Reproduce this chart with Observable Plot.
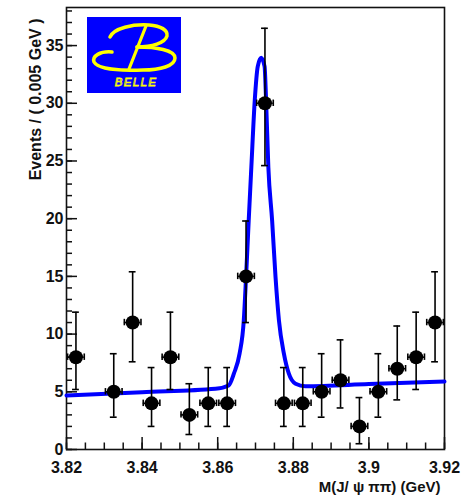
<!DOCTYPE html>
<html>
<head>
<meta charset="utf-8">
<script src="https://cdn.jsdelivr.net/npm/d3@7"></script>
<script src="https://cdn.jsdelivr.net/npm/@observablehq/plot@0.6"></script>
<style>
  html, body { margin: 0; padding: 0; background: #fff; }
  #chart svg { display: block; }
</style>
</head>
<body>
<div id="chart"></div>
<script>
// Bin centres (GeV), counts and asymmetric Poisson error limits
const binCenters = [3.8225, 3.8325, 3.8375, 3.8425, 3.8475, 3.8525, 3.8575, 3.8625, 3.8675, 3.8725,
                    3.8775, 3.8825, 3.8875, 3.8925, 3.8975, 3.9025, 3.9075, 3.9125, 3.9175];
const counts     = [8, 5, 11, 4, 8, 3, 4, 4, 15, 30, 4, 4, 5, 6, 2, 5, 7, 8, 11];
const errLow     = [5.2, 2.8, 7.6, 2.0, 5.2, 1.3, 2.0, 2.0, 11.0, 24.6, 2.0, 2.0, 2.8, 3.6, 0.5, 2.8, 4.3, 5.2, 7.6];
const errHigh    = [11.9, 8.3, 15.4, 7.1, 11.9, 5.7, 7.1, 7.1, 19.8, 36.5, 7.1, 7.1, 8.3, 9.5, 4.5, 8.3, 10.7, 11.9, 15.4];

// Fit curve
const fitX = [3.82, 3.84, 3.8594, 3.8629, 3.8643, 3.8658, 3.8669, 3.8675, 3.8682, 3.8689, 3.8698, 3.8706,
              3.8715, 3.8724, 3.8728, 3.8734, 3.8744, 3.8753, 3.8762, 3.8775, 3.8788, 3.8806, 3.8832, 3.90, 3.92];
const fitY = [4.68, 4.97, 5.26, 5.55, 6.59, 8.33, 11.19, 14.93, 19.84, 24.46, 30.24, 33.2,
              33.94, 33.2, 30.24, 24.46, 19.84, 14.93, 11.19, 8.33, 6.59, 5.7, 5.49, 5.67, 5.89];

// Axis ticks
const xTicks = [3.82, 3.84, 3.86, 3.88, 3.90, 3.92];
const xTickLabels = ["3.82", "3.84", "3.86", "3.88", "3.9", "3.92"];
const yTicks = [0, 5, 10, 15, 20, 25, 30, 35];
const yTickLabels = ["0", "5", "10", "15", "20", "25", "30", "35"];
const xMinorStep = 0.005;
const yMinorStep = 1;

const xTitle = "M(J/ ψ ππ) (GeV)";
const yTitle = "Events / ( 0.005 GeV )";

const points = binCenters.map((x, i) => ({x, y: counts[i], lo: errLow[i], hi: errHigh[i]}));
const fit = fitX.map((x, i) => ({x, y: fitY[i]}));

const xDomain = [3.82, 3.92];
const yDomain = [0, 38.3];
const xMinor = d3.range(0, Math.round((xDomain[1] - xDomain[0]) / xMinorStep) + 1).map(i => xDomain[0] + i * xMinorStep);
const yMinor = d3.range(0, 39, yMinorStep);

const halfW = 0.0022;   // horizontal error-bar half width
const capW = 0.0009;    // cap half width (x units)
const capH = 0.28;      // cap half height (y units)

const font = "'Liberation Sans', Arial, Helvetica, sans-serif";

function belleLogo(index, scales, values, dims) {
  const g = d3.create("svg:g");
  g.append("rect").attr("x", 87).attr("y", 17).attr("width", 94).attr("height", 76).attr("fill", "#0000ff");
  const stroke = "#ffff00";
  g.append("path")
    .attr("d", "M110,37 C114,28 133,24 149,25 C161,26 168,30 167,36 C165,43 152,47 137,47")
    .attr("fill", "none").attr("stroke", stroke).attr("stroke-width", 3.5).attr("stroke-linecap", "round");
  g.append("path")
    .attr("d", "M137,47 C156,47 175,50 175,58 C175,66 160,70 143,70 C120,71 98,69 94,62 C92,56 100,51 112,52")
    .attr("fill", "none").attr("stroke", stroke).attr("stroke-width", 3.5).attr("stroke-linecap", "round");
  g.append("path")
    .attr("d", "M146,26 L129,69")
    .attr("fill", "none").attr("stroke", stroke).attr("stroke-width", 3.2).attr("stroke-linecap", "round");
  g.append("text").attr("x", 136).attr("y", 86).attr("text-anchor", "middle")
    .attr("font-family", font).attr("font-style", "italic").attr("font-size", 11.5)
    .attr("letter-spacing", 1.3).attr("fill", "none").attr("stroke", stroke).attr("stroke-width", 0.8)
    .text("BELLE");
  return g.node();
}

const chart = Plot.plot({
  width: 462,
  height: 496,
  marginLeft: 66,
  marginRight: 18,
  marginTop: 7,
  marginBottom: 47,
  style: {fontFamily: font, background: "#fff"},
  x: {domain: xDomain, label: null},
  y: {domain: yDomain, label: null},
  marks: [
    // minor ticks
    Plot.axisX({ticks: xMinor, tickSize: -6.5, tickFormat: () => "", stroke: "#111", strokeWidth: 1.5, label: null}),
    Plot.axisY({ticks: yMinor, tickSize: -6, tickFormat: () => "", stroke: "#111", strokeWidth: 1.5, label: null}),
    // major ticks with labels
    Plot.axisX({ticks: xTicks, tickSize: -12, tickPadding: 24, tickFormat: (d, i) => xTickLabels[i],
                stroke: "#111", strokeWidth: 1.5, fontSize: 16, fontWeight: "bold", fill: "#111", label: null}),
    Plot.axisY({ticks: yTicks, tickSize: -11, tickPadding: 14, tickFormat: (d, i) => yTickLabels[i],
                stroke: "#111", strokeWidth: 1.5, fontSize: 16, fontWeight: "bold", fill: "#111", label: null}),
    Plot.frame({stroke: "#111", strokeWidth: 1.6}),
    belleLogo,
    // fit curve
    Plot.line(fit, {x: "x", y: "y", curve: "monotone-x", stroke: "#0000ff", strokeWidth: 4}),
    // vertical error bars + caps
    Plot.ruleX(points, {x: "x", y1: "lo", y2: "hi", stroke: "#000", strokeWidth: 1.6}),
    Plot.ruleY(points, {y: "hi", x1: d => d.x - capW, x2: d => d.x + capW, stroke: "#000", strokeWidth: 1.6}),
    Plot.ruleY(points, {y: "lo", x1: d => d.x - capW, x2: d => d.x + capW, stroke: "#000", strokeWidth: 1.6}),
    // horizontal error bars + caps
    Plot.ruleY(points, {y: "y", x1: d => d.x - halfW, x2: d => d.x + halfW, stroke: "#000", strokeWidth: 1.6}),
    Plot.ruleX(points, {x: d => d.x - halfW, y1: d => d.y - capH, y2: d => d.y + capH, stroke: "#000", strokeWidth: 1.6}),
    Plot.ruleX(points, {x: d => d.x + halfW, y1: d => d.y - capH, y2: d => d.y + capH, stroke: "#000", strokeWidth: 1.6}),
    // markers
    Plot.dot(points, {x: "x", y: "y", r: 7, fill: "#000", stroke: "none"}),
    // titles
    Plot.text([xTitle], {frameAnchor: "bottom-right", textAnchor: "end", lineAnchor: "middle", dx: -4, dy: 38,
                         fontSize: 15, fontWeight: "bold", fill: "#111"}),
    Plot.text([yTitle], {frameAnchor: "top-left", textAnchor: "end", lineAnchor: "middle", rotate: -90, dx: -31, dy: 11,
                         fontSize: 16, fontWeight: "bold", fill: "#111"})
  ]
});
document.getElementById("chart").append(chart);
</script>
</body>
</html>
